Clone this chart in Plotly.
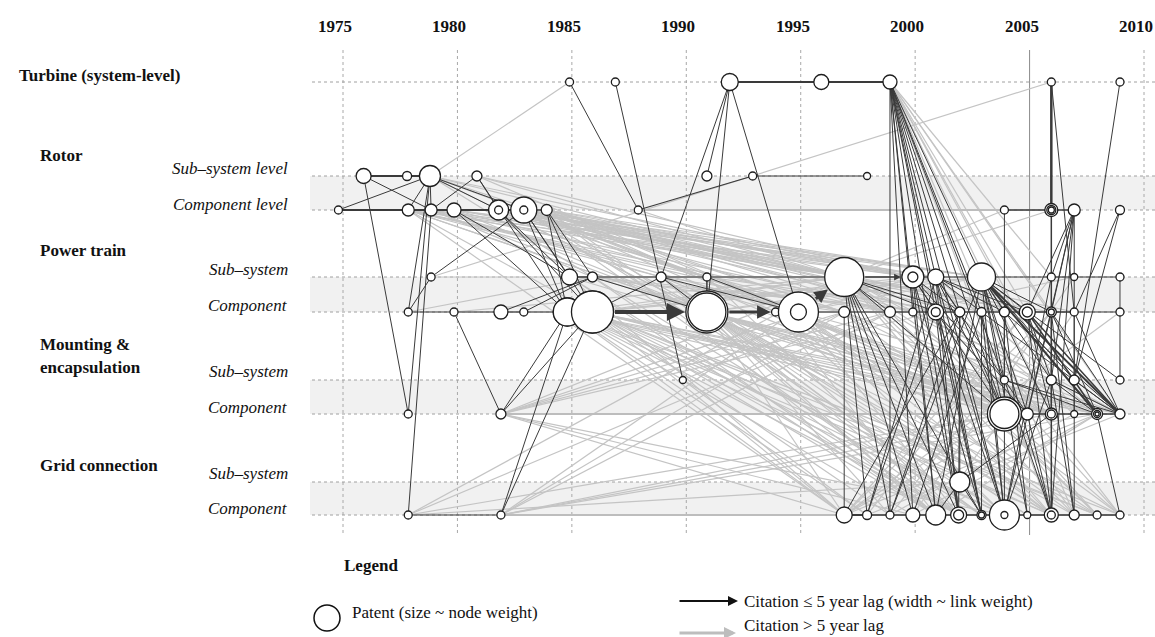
import plotly.graph_objects as go

# ---------------- data ----------------
YEAR_TICKS = [1975, 1980, 1985, 1990, 1995, 2000, 2005, 2010]

ROWS = ["T", "RS", "RC", "PS", "PC", "MS", "MC", "GS", "GC"]

# nodes: (id, year, radius, inner ring radii)
TURBINE_NODES = [("T85", 1984.9, 4, []), ("T87", 1986.9, 4, []), ("T92", 1991.9, 8.5, []),
                 ("T96", 1995.9, 7.5, []), ("T99", 1998.9, 7, []), ("T06", 2005.95, 4, []),
                 ("T09", 2008.95, 4, [])]
ROTOR_SUB_NODES = [("RS76", 1975.9, 7.5, []), ("RS78", 1977.8, 4.5, []), ("RS79", 1978.8, 10.5, []),
                   ("RS81", 1980.85, 5, []), ("RS91", 1990.9, 5, []), ("RS93", 1992.9, 4, []),
                   ("RS98", 1997.9, 3.5, [])]
ROTOR_COMP_NODES = [("RC75", 1974.8, 4, []), ("RC78", 1977.85, 6, []), ("RC79", 1978.85, 6, []),
                    ("RC80", 1979.85, 7, []), ("RC82", 1981.8, 10, [4]), ("RC83", 1982.9, 13, [4]),
                    ("RC84", 1983.9, 5.5, []), ("RC88", 1987.9, 4, []), ("RC04", 2003.9, 4, []),
                    ("RC06", 2005.95, 6.5, [4.5, 3]), ("RC07", 2006.95, 6, []), ("RC09", 2008.95, 4.5, [])]
PT_SUB_NODES = [("PS79", 1978.85, 4, []), ("PS85", 1984.9, 8, []), ("PS86", 1985.9, 5, []),
                ("PS89", 1988.9, 5, []), ("PS91", 1990.9, 4, []), ("PS97", 1996.9, 19.5, []),
                ("PS00", 1999.9, 11, [5]), ("PS01", 2000.9, 8, []), ("PS03", 2002.9, 14, []),
                ("PS06", 2005.95, 4, []), ("PS07", 2006.95, 3.5, []), ("PS09", 2008.95, 4, [])]
PT_COMP_NODES = [("PC78", 1977.85, 4, []), ("PC80", 1979.85, 4, []), ("PC82", 1981.9, 7, []),
                 ("PC83", 1982.9, 4, []), ("PC85", 1984.8, 14, []), ("PC86", 1985.9, 21, []),
                 ("PC91", 1990.9, 21, [19]), ("PC94", 1993.9, 4, []), ("PC95", 1994.9, 20, [8]),
                 ("PC97", 1996.9, 5.5, []), ("PC99", 1998.9, 5.5, []), ("PC00", 1999.9, 4, []),
                 ("PC01", 2000.9, 8, [4.5]), ("PC02", 2001.95, 5, []), ("PC03", 2002.9, 4.5, []),
                 ("PC04", 2003.9, 5, []), ("PC05", 2004.9, 8, [5]), ("PC06", 2005.95, 5, [3]),
                 ("PC07", 2006.95, 4, []), ("PC09", 2008.95, 4, [])]
MOUNT_SUB_NODES = [("MS90", 1989.85, 3.5, []), ("MS04", 2003.9, 4, []), ("MS06", 2005.95, 5, []),
                   ("MS07", 2006.95, 5, []), ("MS09", 2008.95, 4, [])]
MOUNT_COMP_NODES = [("MC78", 1977.85, 4, []), ("MC82", 1981.9, 5, []), ("MC04", 2003.9, 17, [14.5]),
                    ("MC05", 2004.9, 6, []), ("MC06", 2005.95, 6, [4]), ("MC07", 2006.95, 3.5, []),
                    ("MC08", 2007.95, 5.5, [3.5, 2]), ("MC09", 2008.95, 5, [])]
GRID_SUB_NODES = [("GS02", 2001.95, 10, [])]
GRID_COMP_NODES = [("GC78", 1977.85, 4, []), ("GC82", 1981.9, 4, []), ("GC97", 1996.9, 8, []),
                   ("GC98", 1997.9, 4.5, []), ("GC99", 1998.9, 4, []), ("GC00", 1999.9, 7, []),
                   ("GC01", 2000.9, 10, []), ("GC02", 2001.9, 8, [5]), ("GC03", 2002.9, 4.5, [3]),
                   ("GC04", 2003.9, 15, [3.5]), ("GC05", 2004.9, 3.5, []), ("GC06", 2005.95, 7, [4]),
                   ("GC07", 2006.95, 5, []), ("GC08", 2007.95, 4, []), ("GC09", 2008.95, 4, [])]

# dark citations (<= 5 year lag): (source, target, width)
DARK_EDGES = [
    ("RS76", "RS78", 2), ("RS78", "RS79", 2), ("RC75", "RC78", 2), ("RC78", "RC79", 2), ("RC79", "RC80", 2),
    ("RC80", "RC82", 2), ("RC82", "RC83", 2), ("RC83", "RC84", 1.5),
    ("RC75", "RS79", 1), ("RS76", "RC79", 1), ("RS76", "MC78", 1), ("RS79", "RC78", 1), ("RS79", "RC79", 1),
    ("RS79", "PC78", 1), ("RC79", "GC78", 1), ("RS79", "MC78", 1), ("RS81", "RC79", 1), ("RS81", "RC82", 1),
    ("RS79", "RC82", 1), ("RS79", "RC83", 1),
    ("RC82", "PS85", 1), ("RC83", "PS85", 1), ("RC83", "PC85", 1), ("RC84", "PC86", 1), ("RC82", "PC86", 1),
    ("RC80", "PS85", 1), ("RC83", "PC86", 1), ("RC84", "PS86", 1), ("RS81", "PC85", 1), ("RC84", "PC85", 1),
    ("RC80", "PC85", 1), ("PC78", "PS79", 1), ("PS79", "RC83", 1),
    ("PC78", "PC80", 1.2), ("PC80", "PC82", 1.2), ("PC82", "PC83", 1.2), ("PC83", "PC85", 1.2),
    ("PC80", "MC82", 1), ("MC82", "PC85", 1), ("MC82", "PC86", 1), ("GC82", "PC85", 1), ("GC82", "PC86", 1),
    ("GC78", "GC82", 1), ("PC82", "PS86", 1), ("PC83", "PS86", 1),
    ("PS85", "PS86", 1.5), ("PS86", "PS89", 1.2), ("PS89", "PS91", 1.2), ("PS91", "PS97", 1.2),
    ("PS00", "PS01", 1.2), ("PS01", "PS03", 1.2), ("PS03", "PS06", 1.2), ("PS06", "PS07", 1.2), ("PS07", "PS09", 1.2),
    ("PC95", "PC97", 1.2), ("PC97", "PC99", 1.2), ("PC99", "PC00", 1.2), ("PC00", "PC01", 1.2), ("PC01", "PC02", 1.2),
    ("PC02", "PC03", 1.2), ("PC03", "PC04", 1.2), ("PC04", "PC05", 1.2), ("PC05", "PC06", 1.5), ("PC06", "PC07", 1.5),
    ("PC07", "PC09", 1.2),
    ("PC86", "PS89", 1), ("PS86", "PC91", 1), ("PS89", "PC91", 1), ("PS91", "PC91", 1.5), ("PS91", "PC95", 1),
    ("PS89", "PC95", 1),
    ("T92", "RS91", 1), ("T92", "PS89", 1), ("T92", "PC91", 1), ("T92", "PC95", 1), ("T92", "T96", 2), ("T96", "T99", 2),
    ("T85", "RC88", 1), ("RC88", "RS93", 1.2), ("RS93", "RS98", 1.2), ("T87", "MS90", 1),
    ("PC97", "GC97", 1),
    ("PS97", "GC99", 1), ("PS97", "GC00", 1), ("PS97", "GC01", 1), ("PS97", "GC02", 1), ("PS97", "GC03", 1),
    ("PS97", "MC04", 1), ("PS97", "PC01", 1), ("PS97", "PC02", 1), ("PS97", "GC98", 1), ("PS97", "PC99", 1),
    ("T99", "GC00", 1), ("T99", "GC01", 1), ("T99", "GC02", 1), ("T99", "GC03", 1), ("T99", "GC04", 1),
    ("T99", "PC01", 1), ("T99", "PC02", 1), ("T99", "PC03", 1), ("T99", "PS01", 1), ("T99", "PS03", 1),
    ("T99", "MC04", 1), ("T99", "MS04", 1), ("T99", "PC00", 1), ("T99", "GC99", 1),
    ("PS00", "PC01", 1), ("PS00", "PC02", 1), ("PS00", "MC04", 1), ("PS00", "GC01", 1), ("PS00", "GC02", 1),
    ("PS00", "GC03", 1), ("PS00", "MS04", 1),
    ("PS01", "PC02", 1), ("PS01", "PC03", 1), ("PS01", "PC04", 1), ("PS01", "PC05", 1), ("PS01", "MC04", 1),
    ("PS01", "MC05", 1), ("PS01", "GC02", 1), ("PS01", "GC04", 1), ("PS01", "GC03", 1),
    ("PS03", "PC04", 1), ("PS03", "PC05", 1), ("PS03", "PC06", 1), ("PS03", "MC05", 1), ("PS03", "MC06", 1),
    ("PS03", "MS06", 1), ("PS03", "MS04", 1), ("PS03", "GC04", 1), ("PS03", "GC05", 1), ("PS03", "GC06", 1),
    ("PS03", "MC08", 2), ("PS03", "MC09", 2), ("PS03", "MS07", 1), ("PS03", "MS09", 1),
    ("PC01", "GC02", 1), ("PC01", "GC03", 1), ("PC01", "GC04", 1), ("PC01", "MC05", 1),
    ("PC02", "GS02", 1), ("PC02", "GC02", 1), ("PC02", "MC04", 1),
    ("PC03", "GC03", 1), ("PC03", "GC04", 1), ("PC03", "MC04", 1), ("PC03", "MC09", 1),
    ("PC04", "MC04", 1), ("PC04", "GC04", 1), ("PC04", "GC05", 1), ("PC04", "MS04", 1), ("PC04", "MC09", 1),
    ("PC05", "MS06", 1), ("PC05", "MC06", 1), ("PC05", "GC06", 1), ("PC05", "MC08", 1.5), ("PC05", "MC09", 1.5),
    ("PC06", "MC06", 1), ("PC06", "GC07", 1), ("PC06", "MC08", 1), ("PC06", "MC09", 1),
    ("PC07", "GC07", 1), ("PC07", "MC07", 1), ("PC07", "MC09", 1), ("PC09", "MS09", 1), ("PS09", "PC09", 1),
    ("MS04", "MC08", 1), ("MS04", "MC09", 1), ("MS04", "GC06", 1),
    ("MS06", "MC08", 1), ("MS06", "MC09", 1), ("MS06", "GC07", 1), ("MS07", "MC09", 1),
    ("MC04", "MC05", 1.5), ("MC05", "MC06", 1.5), ("MC06", "MC07", 1.5), ("MC07", "MC08", 1.5), ("MC08", "MC09", 1.5),
    ("GC97", "GC98", 2), ("GC98", "GC99", 1.5), ("GC99", "GC00", 1.5), ("GC00", "GC01", 1.5), ("GC01", "GC02", 1.5),
    ("GC02", "GC03", 1.5), ("GC03", "GC04", 1.5), ("GC04", "GC05", 1.5), ("GC05", "GC06", 1.5), ("GC06", "GC07", 1.5),
    ("GC07", "GC08", 1.5), ("GC08", "GC09", 1.5),
    ("GC98", "PS01", 1), ("GC98", "PC01", 1), ("GC97", "PC02", 1), ("GC99", "PS03", 1), ("GC00", "PC03", 1),
    ("GC99", "PC02", 1), ("GC01", "PS03", 1),
    ("GC04", "PC06", 1), ("GC04", "PS06", 1), ("GC04", "MS06", 1),
    ("T06", "RC06", 2.5), ("RC06", "PS06", 1.5), ("PS06", "PC06", 1.5), ("PC06", "MS06", 1.5), ("MS06", "MC06", 1.5),
    ("MC06", "GC06", 1.5),
    ("RC04", "RC06", 1.5), ("RC06", "RC07", 1.5),
    ("RC07", "PC05", 1), ("RC07", "PC06", 1), ("RC07", "MC05", 1), ("RC07", "MS06", 1), ("RC07", "GC06", 1),
    ("RC07", "PS06", 1), ("RC07", "PC07", 1),
    ("RC09", "MS07", 1), ("RC09", "PC07", 1), ("RC04", "MS04", 1), ("T09", "MS07", 1), ("T06", "PC07", 1),
    ("GS02", "GC01", 1), ("GS02", "MC06", 1), ("GS02", "GC03", 1), ("MC05", "GC06", 1), ("MC08", "GC09", 1),
]

# main trunk drawn with arrowheads: (source, target, width)
ARROW_EDGES = [("PC86", "PC91", 4), ("PC91", "PC94", 3), ("PC94", "PC95", 3), ("PC95", "PS97", 3),
               ("PS97", "PS00", 1.5)]

# grey citations (> 5 year lag): source -> targets
GRAY_LINKS = {
    "RS79": ["T85", "PS97", "PC95", "PS00", "PC97", "PS86", "PS91", "PC91"],
    "PS79": ["T06", "PS97"],
    "RC78": ["PC86", "PC91", "PS91", "PS97", "PC97", "PS00", "PC99", "PS89", "GC97", "MC04"],
    "RC79": ["PS86", "PC91", "PS97", "PC95", "PS01", "PC00", "PS89"],
    "RC80": ["PS97", "PC97", "PS00", "PS03", "PC91"],
    "RC82": ["PS97", "PC99", "PS01", "PC01", "PS03", "PC05", "PC91", "PS91"],
    "RC83": ["PS97", "PC97", "PS00", "PC01", "PS01", "PC02", "PS03", "PC03", "PC04", "PC05", "MC04", "GC04",
             "PC91", "PC95", "GC02", "MC06"],
    "RC84": ["PS97", "PC99", "PS00", "PC00", "PC02", "PS03", "MC04", "PC95", "GC01", "GC03"],
    "RC88": ["PS97", "RC06"],
    "RS81": ["PS97", "PS00", "PC95"],
    "PC78": ["PS86"],
    "PC80": ["PS97", "PC95"],
    "GC78": ["PC99", "GS02", "PS97", "MC04"],
    "MC82": ["PC97", "PC99", "GC97", "PS00", "MC05", "GC00", "PS97", "PC01", "MC06", "GC04"],
    "GC82": ["MC04", "MC06", "PC97", "PS97", "PC99", "GC04", "MC08"],
    "PS85": ["PS00", "PC01", "GC97", "GC01", "PS03", "PS97", "GC02", "MC05"],
    "PC85": ["GC97", "GC98", "GC00", "MC04", "PC97", "PS97", "PC99", "GC02", "MC06", "GC04", "GC06", "MC08",
             "GC08"],
    "PC86": ["GC97", "GC99", "GC01", "GC02", "GC04", "MC04", "MC05", "PS97", "PC97", "PC99", "PS00", "PS01",
             "PS03", "PC01", "GC06", "MC08", "GC08", "GC09", "MC09", "MC06"],
    "PS86": ["PS97", "PC97", "PS00", "PC01", "GC01", "GC03", "MC06"],
    "PS89": ["PS00", "PC99", "GC01", "MC04", "GC03", "MS04", "GC05", "GC06"],
    "PC91": ["GC97", "GC99", "GC01", "GC02", "GC03", "GC04", "GC05", "MC04", "MC05", "MC06", "PS01", "PC01",
             "PC02", "PC04", "PS03", "MS04", "GC06", "MC08", "GC08", "GC09", "MC09", "GC07", "PC05", "PC06"],
    "PS91": ["PS01", "PC02", "GC02", "MC05"],
    "MS90": ["PC97", "GC98"],
    "PC94": ["GC01", "MC04", "GC04", "GC06", "MC08"],
    "PC95": ["PC02", "PC03", "GC02", "GC04", "MC04", "MC05", "MC06", "GC06", "GC07", "GC08", "PS03", "PC04",
             "PC05", "MS06"],
    "PS97": ["PC05", "PC06", "MC06", "MC08", "MC09", "GC06", "GC07", "GC08", "GC09", "RC04", "RC06"],
    "PC97": ["PC05", "MC06", "GC06", "GC09", "MC09"],
    "GC97": ["GC04", "MC05", "PC05", "PC06", "MS06", "MC08", "PC09", "GC09"],
    "GC98": ["GC06", "MC09", "PS06"],
    "T99": ["PC05", "PC06", "MC06", "MC07", "GC06", "GC07", "PS06", "MS06", "MC09"],
    "GC99": ["PC06", "MC07", "GC08"],
    "PC99": ["MC06", "GC08", "PC07"],
    "GC00": ["MC08", "GC07", "PS07"],
    "GC01": ["PC07", "MC08", "GC08", "GC09"],
    "PS00": ["MC07", "GC07", "PC07"],
    "PC00": ["GC08", "MC09", "PS07"],
    "PS01": ["GC09", "MC08"],
    "PC01": ["GC09", "MC09"],
}
GRAY_ROW_LINKS = [("RC88", "RC04"), ("MC82", "MC04"), ("GC82", "GC97")]

# ---------------- layout constants ----------------
ROW_Y = {"T": 82, "RS": 176, "RC": 210, "PS": 277, "PC": 312, "MS": 380, "MC": 414, "GS": 482, "GC": 515}
W, H = 1155, 637
PX_PER_YEAR = 22.886
X0 = 1975 - 343 / PX_PER_YEAR
X1 = X0 + W / PX_PER_YEAR


def px_to_year(px):
    return X0 + px / PX_PER_YEAR


FONT = "Liberation Serif, Times New Roman, serif"
DARK = "#3a3a3a"
GRAY = "#c4c4c4"

node_groups = [("T", TURBINE_NODES), ("RS", ROTOR_SUB_NODES), ("RC", ROTOR_COMP_NODES), ("PS", PT_SUB_NODES),
               ("PC", PT_COMP_NODES), ("MS", MOUNT_SUB_NODES), ("MC", MOUNT_COMP_NODES), ("GS", GRID_SUB_NODES),
               ("GC", GRID_COMP_NODES)]
NX, NY, NR, NRING = {}, {}, {}, {}
order = []
for row, nodes in node_groups:
    for nid, yr, r, rings in nodes:
        NX[nid] = yr
        NY[nid] = ROW_Y[row]
        NR[nid] = r
        NRING[nid] = rings
        order.append(nid)

fig = go.Figure()

# ---------------- background shapes ----------------
band_x0 = px_to_year(310)
for sub, comp in [("RS", "RC"), ("PS", "PC"), ("MS", "MC"), ("GS", "GC")]:
    fig.add_shape(type="rect", xref="x", yref="y", x0=band_x0, x1=X1, y0=ROW_Y[sub], y1=ROW_Y[comp],
                  fillcolor="#f1f1f1", line_width=0, layer="below")
for yr in YEAR_TICKS:
    fig.add_shape(type="line", xref="x", yref="y", x0=yr, x1=yr, y0=50, y1=535, layer="below",
                  line=dict(color="#8a8a8a" if yr == 2005 else "#a8a8a8", width=1,
                            dash="solid" if yr == 2005 else "dot"))
for row in ROWS:
    fig.add_shape(type="line", xref="x", yref="y", x0=px_to_year(312), x1=X1, y0=ROW_Y[row], y1=ROW_Y[row],
                  layer="below", line=dict(color="#a0a0a0", width=1, dash="dot"))

# ---------------- edges ----------------
gx, gy = [], []
for s, targets in GRAY_LINKS.items():
    for t in targets:
        gx += [NX[s], NX[t], None]
        gy += [NY[s], NY[t], None]
fig.add_trace(go.Scatter(x=gx, y=gy, mode="lines", line=dict(color=GRAY, width=1.2), hoverinfo="skip",
                         showlegend=False))
rx, ry = [], []
for s, t in GRAY_ROW_LINKS:
    rx += [NX[s], NX[t], None]
    ry += [NY[s], NY[t], None]
fig.add_trace(go.Scatter(x=rx, y=ry, mode="lines", line=dict(color="#bdbdbd", width=2.2), hoverinfo="skip",
                         showlegend=False))

widths = sorted(set(w for _, _, w in DARK_EDGES))
for w in widths:
    dx, dy = [], []
    for s, t, ww in DARK_EDGES:
        if ww == w:
            dx += [NX[s], NX[t], None]
            dy += [NY[s], NY[t], None]
    fig.add_trace(go.Scatter(x=dx, y=dy, mode="lines", line=dict(color=DARK, width=w), hoverinfo="skip",
                             showlegend=False))

# ---------------- nodes ----------------
fig.add_trace(go.Scatter(
    x=[NX[n] for n in order], y=[NY[n] for n in order], mode="markers", hoverinfo="skip", showlegend=False,
    marker=dict(size=[2 * NR[n] for n in order], color="white", opacity=1,
                line=dict(color="#1e1e1e", width=1.3))))
for n in ["PC85", "PC86"]:
    fig.add_trace(go.Scatter(x=[NX[n]], y=[NY[n]], mode="markers", hoverinfo="skip", showlegend=False,
                             marker=dict(size=2 * NR[n], color="white", opacity=1,
                                         line=dict(color="#1e1e1e", width=1.3))))
ix, iy, isz = [], [], []
for n in order:
    for rr in NRING[n]:
        ix.append(NX[n]); iy.append(NY[n]); isz.append(2 * rr)
fig.add_trace(go.Scatter(x=ix, y=iy, mode="markers", hoverinfo="skip", showlegend=False,
                         marker=dict(size=isz, color="white", opacity=1, line=dict(color="#1e1e1e", width=1.3))))

# arrows of the main trunk
for s, t, w in ARROW_EDGES:
    fig.add_annotation(x=NX[t], y=NY[t], ax=NX[s], ay=NY[s], xref="x", yref="y", axref="x", ayref="y",
                       text="", showarrow=True, arrowhead=2, arrowsize=0.9, arrowwidth=w, arrowcolor=DARK,
                       standoff=NR[t] + 1, startstandoff=NR[s])

# ---------------- text ----------------
for yr in YEAR_TICKS:
    fig.add_annotation(x=yr, y=26, xref="x", yref="y", text=f"<b>{yr}</b>", showarrow=False, xshift=-8,
                       font=dict(family=FONT, size=17, color="#111"))

GROUP_LABELS = [("Turbine (system-level)", 17, 75), ("Rotor", 38, 155), ("Power train", 38, 250),
                ("Mounting &", 38, 344), ("encapsulation", 38, 367), ("Grid connection", 38, 465)]
for txt, px, py in GROUP_LABELS:
    fig.add_annotation(x=px / W, y=py, xref="paper", yref="y", text=f"<b>{txt}</b>", showarrow=False,
                       xanchor="left", yanchor="middle", font=dict(family=FONT, size=17, color="#111"))

LEVEL_LABELS = [("Sub-system level", 168), ("Component level", 204), ("Sub-system", 269), ("Component", 305),
                ("Sub-system", 371), ("Component", 407), ("Sub-system", 473), ("Component", 508)]
for txt, py in LEVEL_LABELS:
    fig.add_annotation(x=290 / W, y=py, xref="paper", yref="y", text=f"<i>{txt.replace('-', '–')}</i>",
                       showarrow=False, xanchor="right", yanchor="middle",
                       font=dict(family=FONT, size=17, color="#111"))

# legend
fig.add_annotation(x=342 / W, y=565, xref="paper", yref="y", text="<b>Legend</b>", showarrow=False,
                   xanchor="left", yanchor="middle", font=dict(family=FONT, size=17, color="#111"))
fig.add_trace(go.Scatter(x=[px_to_year(327)], y=[618], mode="markers", hoverinfo="skip", showlegend=False,
                         marker=dict(size=26, color="white", opacity=1, line=dict(color="#111", width=1.5))))
fig.add_annotation(x=350 / W, y=612, xref="paper", yref="y", text="Patent (size ~ node weight)",
                   showarrow=False, xanchor="left", yanchor="middle", font=dict(family=FONT, size=17, color="#111"))
fig.add_annotation(x=px_to_year(738), y=601, ax=px_to_year(678), ay=601, xref="x", yref="y", axref="x",
                   ayref="y", text="", showarrow=True, arrowhead=2, arrowsize=1, arrowwidth=2, arrowcolor="#111")
fig.add_annotation(x=742 / W, y=601, xref="paper", yref="y", text="Citation ≤ 5 year lag (width ~ link weight)",
                   showarrow=False, xanchor="left", yanchor="middle", font=dict(family=FONT, size=17, color="#111"))
fig.add_annotation(x=px_to_year(736), y=633, ax=px_to_year(678), ay=633, xref="x", yref="y", axref="x",
                   ayref="y", text="", showarrow=True, arrowhead=2, arrowsize=0.8, arrowwidth=3,
                   arrowcolor="#bdbdbd")
fig.add_annotation(x=742 / W, y=625, xref="paper", yref="y", text="Citation > 5 year lag",
                   showarrow=False, xanchor="left", yanchor="middle", font=dict(family=FONT, size=17, color="#111"))

fig.update_layout(
    width=W, height=H, margin=dict(l=0, r=0, t=0, b=0), paper_bgcolor="white", plot_bgcolor="white",
    xaxis=dict(range=[X0, X1], visible=False, fixedrange=True),
    yaxis=dict(range=[H, 0], visible=False, fixedrange=True),
    showlegend=False,
)
fig.write_html("out.html", config={"displayModeBar": False, "staticPlot": True},
               post_script="document.body.style.margin='0px';document.body.style.overflow='hidden';")
